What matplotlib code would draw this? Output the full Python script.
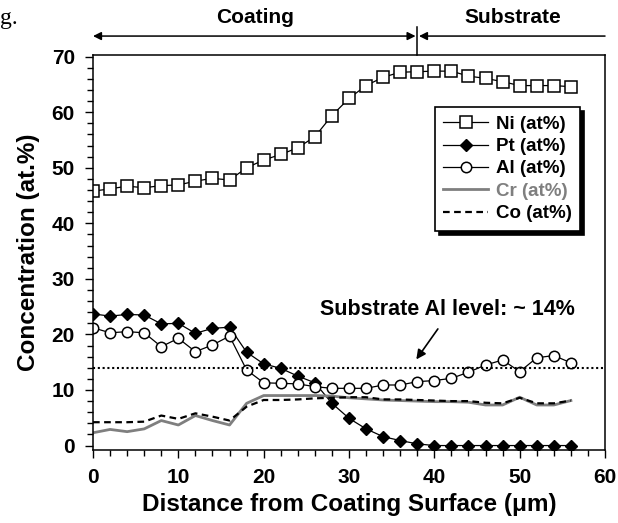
import matplotlib
matplotlib.use('Agg')
import matplotlib.pyplot as plt
from matplotlib.ticker import MultipleLocator

plt.rcParams['font.family'] = ['Liberation Sans', 'DejaVu Sans']
plt.rcParams['font.weight'] = 'bold'

# distance from coating surface (um)
dist = [0, 2, 4, 6, 8, 10, 12, 14, 16, 18, 20, 22, 24, 26, 28,
        30, 32, 34, 36, 38, 40, 42, 44, 46, 48, 50, 52, 54, 56]

ni = [45.8, 46.2, 46.7, 46.4, 46.8, 46.9, 47.6, 48.1, 47.8, 50.0, 51.4, 52.4, 53.6, 55.6, 59.4,
      62.5, 64.8, 66.3, 67.2, 67.3, 67.4, 67.4, 66.5, 66.1, 65.5, 64.8, 64.8, 64.8, 64.6]
pt = [23.7, 23.3, 23.6, 23.5, 21.9, 22.0, 20.2, 21.1, 21.3, 16.8, 14.7, 13.9, 12.5, 11.3, 7.6,
      4.9, 3.0, 1.6, 0.9, 0.3, 0.0, 0.0, 0.0, 0.0, 0.0, 0.0, 0.0, 0.0, 0.0]
al = [21.2, 20.3, 20.5, 20.3, 17.8, 19.3, 16.9, 18.1, 19.7, 13.6, 11.3, 11.2, 11.1, 10.6, 10.3,
      10.3, 10.3, 10.9, 10.9, 11.5, 11.7, 12.1, 13.2, 14.5, 15.4, 13.3, 15.8, 16.2, 14.9]
cr = [2.3, 2.9, 2.5, 3.0, 4.5, 3.7, 5.4, 4.5, 3.7, 7.6, 9.0, 9.0, 9.0, 9.0, 8.9,
      8.6, 8.4, 8.2, 8.1, 8.0, 7.9, 7.9, 7.8, 7.3, 7.3, 8.7, 7.3, 7.3, 8.1]
co = [4.2, 4.2, 4.2, 4.3, 5.4, 4.8, 5.8, 5.2, 4.5, 7.0, 8.2, 8.2, 8.3, 8.5, 8.6,
      8.7, 8.7, 8.3, 8.3, 8.2, 8.1, 8.0, 8.0, 7.7, 7.6, 8.6, 7.6, 7.6, 8.1]

al_level = 14
boundary = 38

fig = plt.figure(figsize=(6.18, 5.23), dpi=100)
ax = fig.add_axes([0.1505, 0.1396, 0.8285, 0.7552])

ax.plot(dist, ni, color='k', lw=0.9, marker='s', ms=8, mfc='white', mec='k', mew=1.1, label='Ni (at%)')
ax.plot(dist, pt, color='k', lw=0.9, marker='D', ms=6.5, mfc='k', mec='k', label='Pt (at%)')
ax.plot(dist, al, color='k', lw=0.9, marker='o', ms=7.5, mfc='white', mec='k', mew=1.1, label='Al (at%)')
ax.plot(dist, cr, color='#7f7f7f', lw=2.0, label='Cr (at%)')
ax.plot(dist, co, color='k', lw=1.6, ls=(0, (3, 2)), label='Co (at%)')

ax.axhline(al_level, color='k', lw=1.5, ls=(0, (1, 1.3)))

ax.set_xlim(0, 60)
ax.set_ylim(-0.8, 70.3)
ax.xaxis.set_major_locator(MultipleLocator(10))
ax.xaxis.set_minor_locator(MultipleLocator(2))
ax.yaxis.set_major_locator(MultipleLocator(10))
ax.yaxis.set_minor_locator(MultipleLocator(2))
ax.tick_params(which='major', direction='out', length=6, width=1, labelsize=15, pad=7)
ax.tick_params(which='minor', direction='out', length=4, width=1)
for lab in ax.get_xticklabels() + ax.get_yticklabels():
    lab.set_fontweight('bold')
for sp in ax.spines.values():
    sp.set_linewidth(1.1)

ax.set_xlabel('Distance from Coating Surface (\u03bcm)', fontsize=17.5, fontweight='bold', labelpad=4)
ax.set_ylabel('Concentration (at.%)', fontsize=17.5, fontweight='bold', labelpad=8)

leg = ax.legend(loc='upper left', bbox_to_anchor=(0.668, 0.868), borderaxespad=0,
                fontsize=13.5, frameon=True, fancybox=False, numpoints=1,
                handlelength=2.4, handletextpad=0.4, labelspacing=0.28, borderpad=0.45,
                shadow={'color': 'k', 'alpha': 1.0, 'ox': 3, 'oy': -3})
leg.get_frame().set_edgecolor('k')
leg.get_frame().set_linewidth(1.2)
for t in leg.get_texts():
    t.set_fontweight('bold')
leg.get_texts()[3].set_color('#7f7f7f')

# arrow to the Al level line
ax.annotate('', xy=(37.7, 15.1), xytext=(40.6, 21.4),
            arrowprops=dict(arrowstyle='-|>', color='k', lw=1.2, mutation_scale=14))
ax.text(41.5, 24.5, 'Substrate Al level: ~ 14%', fontsize=15.5, fontweight='bold',
        ha='center', va='center')

# coating / substrate markers above the plot
trans = ax.get_xaxis_transform()
ax.annotate('', xy=(0, 1.048), xytext=(boundary - 0.2, 1.048), xycoords=trans, textcoords=trans,
            arrowprops=dict(arrowstyle='<|-|>', color='k', lw=1.1, mutation_scale=12,
                            shrinkA=0, shrinkB=0), annotation_clip=False)
ax.annotate('', xy=(boundary + 0.2, 1.048), xytext=(60, 1.048), xycoords=trans, textcoords=trans,
            arrowprops=dict(arrowstyle='-|>', color='k', lw=1.1, mutation_scale=12,
                            shrinkA=0, shrinkB=0), annotation_clip=False)
ax.plot([boundary, boundary], [1.0, 1.071], color='k', lw=1.1, transform=trans, clip_on=False)
ax.text(19, 1.096, 'Coating', transform=trans, fontsize=15, fontweight='bold', ha='center', va='center')
ax.text(49.2, 1.096, 'Substrate', transform=trans, fontsize=15, fontweight='bold', ha='center', va='center')

fig.text(0.0, 1 - 24 / 523, 'g.', family='Liberation Serif', fontsize=17, fontweight='normal')

fig.savefig('out.png', dpi=100)
